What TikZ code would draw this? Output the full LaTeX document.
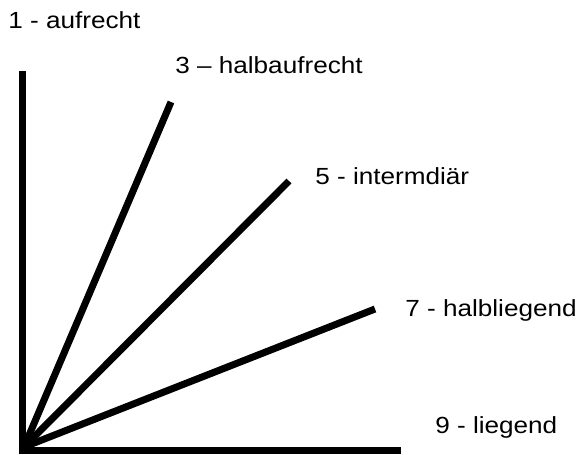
\documentclass[tikz,border=0pt]{standalone}
\usepackage{fontspec}
\setmainfont{Liberation Sans}
\newfontfamily\labelfont[FakeStretch=1.12]{Liberation Sans}
\begin{document}
\begin{tikzpicture}[x=0.75pt, y=-0.75pt, every node/.style={font=\labelfont\fontsize{17.5}{21}\selectfont, anchor=base west, inner sep=0pt}, ray/.style={line width=5.25pt}]
\useasboundingbox (0,0) rectangle (582,454);
\node (L1) at (8,28) {1 - aufrecht};
\node (L3) at (175,73) {3 – halbaufrecht};
\node (L5) at (315,184) {5 - intermdiär};
\node (L7) at (405,316) {7 - halbliegend};
\node (L9) at (435,433) {9 - liegend};

\coordinate (O) at (24,447);
\coordinate (V0) at (22.5,454);
\coordinate (V1) at (22.5,71);
\coordinate (H0) at (19,450.5);
\coordinate (H1) at (401,450.5);
\coordinate (R3) at (171,102);
\coordinate (R5) at (289,181);
\coordinate (R7) at (375,309);

\draw[ray] (V0) to (V1);
\draw[ray] (O) to (R3);
\draw[ray] (O) to (R5);
\draw[ray] (O) to (R7);
\draw[ray] (H0) to (H1);
\end{tikzpicture}
\end{document}
